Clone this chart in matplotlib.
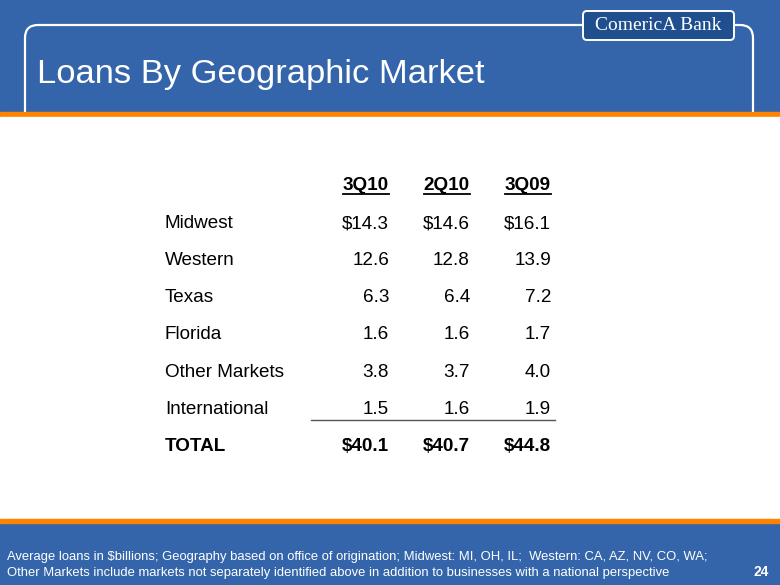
#!/usr/bin/env python3
"""Loans by geographic market slide, redrawn as a table with matplotlib."""

import matplotlib.pyplot as plt
from matplotlib.patches import FancyBboxPatch, Rectangle
from matplotlib.path import Path
from matplotlib.patches import PathPatch

regions = ["Midwest", "Western", "Texas", "Florida", "Other Markets", "International"]
periods = ["3Q10", "2Q10", "3Q09"]
q3_10 = [14.3, 12.6, 6.3, 1.6, 3.8, 1.5]
q2_10 = [14.6, 12.8, 6.4, 1.6, 3.7, 1.6]
q3_09 = [16.1, 13.9, 7.2, 1.7, 4.0, 1.9]
totals = [40.1, 40.7, 44.8]

title = "Loans By Geographic Market"
footnote = [
    "Average loans in $billions; Geography based on office of origination; "
    "Midwest: MI, OH, IL;  Western: CA, AZ, NV, CO, WA;",
    "Other Markets include markets not separately identified above in addition "
    "to businesses with a national perspective",
]
page = "24"

BLUE = "#3465ab"
ORANGE = "#ff8200"
FONT = ["Liberation Sans", "DejaVu Sans"]


def main() -> None:
    fig = plt.figure(figsize=(7.8, 5.85), dpi=100)
    ax = fig.add_axes([0, 0, 1, 1])
    ax.set_xlim(0, 780)
    ax.set_ylim(585, 0)
    ax.axis("off")

    # background and white content area
    ax.add_patch(Rectangle((0, 0), 780, 585, color=BLUE, zorder=0))
    ax.add_patch(Rectangle((0, 112), 780, 5, color=ORANGE, zorder=1))
    ax.add_patch(Rectangle((0, 117), 780, 402, color="white", zorder=1))
    ax.add_patch(Rectangle((0, 519), 780, 4, color=ORANGE, zorder=1))

    # white rounded frame around the title
    r = 13
    verts = [(25, 112), (25, 25 + r), (25, 25), (25 + r, 25), (583, 25),
             (735, 25), (740, 25), (753, 25), (753, 25 + r), (753, 112)]
    codes = [Path.MOVETO, Path.LINETO, Path.CURVE3, Path.CURVE3, Path.LINETO,
             Path.MOVETO, Path.LINETO, Path.CURVE3, Path.CURVE3, Path.LINETO]
    ax.add_patch(PathPatch(Path(verts, codes), fill=False, ec="white",
                           lw=1.6, zorder=2))

    # bank logo box
    ax.add_patch(FancyBboxPatch((583, 11), 151, 29,
                                boxstyle="round,pad=0,rounding_size=4",
                                fc="#1f4f8f", ec="white", lw=1.4, zorder=3))
    ax.text(658, 26, "ComericA Bank", color="white", ha="center", va="center",
            fontsize=14, family=["Liberation Serif", "DejaVu Serif"], zorder=4)

    ax.text(37, 82.5, title, color="white", fontsize=24.8, family=FONT,
            ha="left", va="baseline", zorder=4)

    # table
    right_edges = [389, 470, 551]
    fs = 13.6
    for x, p in zip(right_edges, periods):
        t = ax.text(x, 190, p, ha="right", va="baseline", fontsize=fs,
                    fontweight="bold", family=FONT, zorder=4)
        fig.canvas.draw()
        bb = t.get_window_extent().transformed(ax.transData.inverted())
        ax.plot([bb.x0, bb.x1], [193.5, 193.5], color="black", lw=1.3, zorder=4)

    row_y = [228, 265, 302, 339, 377, 414]
    for i, (name, y) in enumerate(zip(regions, row_y)):
        ax.text(165, y, name, ha="left", va="baseline", fontsize=fs,
                family=FONT, zorder=4)
        for x, vals in zip(right_edges, [q3_10, q2_10, q3_09]):
            s = f"${vals[i]:.1f}" if i == 0 else f"{vals[i]:.1f}"
            ax.text(x, y, s, ha="right", va="baseline", fontsize=fs,
                    family=FONT, zorder=4)

    ax.plot([311, 555], [419.5, 419.5], color="#555555", lw=1.0, zorder=4)
    ax.text(165, 451, "TOTAL", ha="left", va="baseline", fontsize=fs,
            fontweight="bold", family=FONT, zorder=4)
    for x, v in zip(right_edges, totals):
        ax.text(x, 451, f"${v:.1f}", ha="right", va="baseline", fontsize=fs,
                fontweight="bold", family=FONT, zorder=4)

    # footnote
    for line, y in zip(footnote, [560, 576]):
        ax.text(7, y, line, color="white", ha="left", va="baseline",
                fontsize=9.35, family=FONT, zorder=4)
    ax.text(769, 576, page, color="white", ha="right", va="baseline",
            fontsize=10, fontweight="bold", family=FONT, zorder=4)

    fig.savefig("out.png", dpi=100)


if __name__ == "__main__":
    main()
